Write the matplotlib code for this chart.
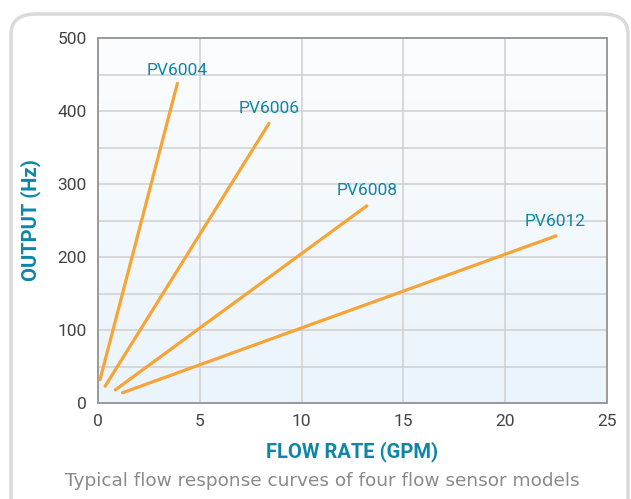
import numpy as np
import matplotlib.pyplot as plt
from matplotlib.patches import FancyBboxPatch
from matplotlib.colors import LinearSegmentedColormap

# Data (start/end points of each straight response line)
models = ["PV6004", "PV6006", "PV6008", "PV6012"]
flow_start = [0.1, 0.35, 0.85, 1.2]
flow_end = [3.9, 8.4, 13.2, 22.5]
hz_start = [32, 23, 18, 14]
hz_end = [438, 383, 270, 229]
label_x = [3.9, 8.4, 13.2, 22.45]
label_y = [456, 404, 291, 249]

x_ticks = [0, 5, 10, 15, 20, 25]
y_ticks = [0, 100, 200, 300, 400, 500]

orange = "#F7A436"
teal = "#0E86A8"

plt.rcParams['font.family'] = ['Roboto', 'DejaVu Sans']

fig = plt.figure(figsize=(6.31, 4.99), dpi=100)

# rounded frame around the whole figure
W, H = 631, 499
frame = FancyBboxPatch((11 / W, -0.05), 617 / W, (499 - 14) / H + 0.05,
                       boxstyle="round,pad=0,rounding_size=0.04",
                       transform=fig.transFigure, facecolor="white",
                       edgecolor="#DADADA", linewidth=2.5, zorder=-5)
fig.patches.append(frame)

ax = fig.add_axes([98 / W, 1 - 403 / H, (607 - 98) / W, (403 - 38) / H])
ax.set_zorder(2)
ax.set_xlim(0, 25)
ax.set_ylim(0, 500)

# soft vertical gradient background
grad = np.linspace(0, 1, 256).reshape(-1, 1)
cmap = LinearSegmentedColormap.from_list("bg", ["#EAF4FB", "#FCFDFE"])
ax.imshow(grad, extent=[0, 25, 0, 500], aspect="auto", origin="lower",
          cmap=cmap, zorder=0)

ax.set_xticks(x_ticks)
ax.set_yticks(y_ticks)
ax.set_yticks(np.arange(50, 500, 100), minor=True)
ax.grid(True, which="both", color="#CFCFCF", linewidth=1.1, zorder=1)
ax.set_axisbelow(True)
ax.tick_params(which="both", length=0, colors="#444444", labelsize=12.5)
ax.tick_params(axis="x", pad=8)
ax.tick_params(axis="y", pad=8)

for s in ax.spines.values():
    s.set_color("#9A9A9A")
    s.set_linewidth(1.4)

for i, name in enumerate(models):
    ax.plot([flow_start[i], flow_end[i]], [hz_start[i], hz_end[i]],
            color=orange, linewidth=2.3, solid_capstyle="round", zorder=3)
    ax.text(label_x[i], label_y[i], name, color=teal, fontsize=12.5,
            ha="center", va="center", zorder=4)

ax.set_xlabel("FLOW RATE (GPM)", color=teal, fontsize=14.5,
              fontweight="bold", labelpad=9)
ax.set_ylabel("OUTPUT (Hz)", color=teal, fontsize=14.5,
              fontweight="bold", labelpad=12)

fig.text(322 / W, 1 - 481 / H, "Typical flow response curves of four flow sensor models",
         color="#8A8A8A", fontsize=13.3, ha="center", va="center",
         family=["DejaVu Sans"])

fig.savefig("out.png", dpi=100)
